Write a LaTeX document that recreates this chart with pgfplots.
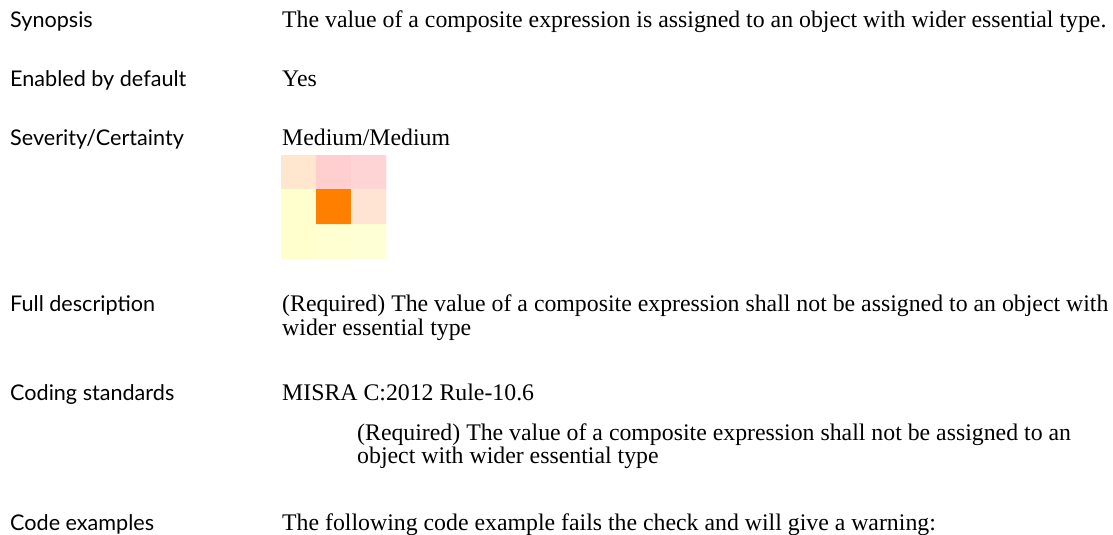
\documentclass[border=0pt]{standalone}
\usepackage{fontspec}
\setmainfont{Liberation Serif}
\newfontfamily\labelfont{Lato}
\usepackage{pgfplots}
\pgfplotsset{compat=1.18}
\begin{document}
\begin{tikzpicture}[x=1bp,y=1bp]
\useasboundingbox (0,0) rectangle (1113,-535);
\clip (0,0) rectangle (1113,-535);
\fill[white] (0,0) rectangle (1113,-535);
\tikzset{
  lab/.style={anchor=base west, inner sep=0pt, font=\labelfont\fontsize{21.6bp}{24bp}\selectfont},
  txt/.style={anchor=base west, inner sep=0pt, font=\fontsize{23.8bp}{24bp}\selectfont}}
\node[lab] at (10,-28) {Synopsis};
\node[txt] at (282,-28) {The value of a composite expression is assigned to an object with wider essential type.};
\node[lab] at (10,-87) {Enabled by default};
\node[txt] at (282,-87) {Yes};
\node[lab] at (10,-146) {Severity/Certainty};
\node[txt] at (282,-146) {Medium/Medium};
\node[lab] at (10,-312) {Full description};
\node[txt] at (282,-312) {(Required) The value of a composite expression shall not be assigned to an object with};
\node[txt] at (282,-336) {wider essential type};
\node[lab] at (10,-400) {Coding standards};
\node[txt] at (282,-400) {MISRA C:2012 Rule-10.6};
\node[txt] at (357,-440) {(Required) The value of a composite expression shall not be assigned to an};
\node[txt] at (357,-463) {object with wider essential type};
\node[lab] at (10,-530) {Code examples};
\node[txt] at (282,-530) {The following code example fails the check and will give a warning:};
\begin{axis}[at={(281bp,-155bp)}, anchor=north west, scale only axis,
  width=105bp, height=104bp, xmin=-0.5, xmax=2.5, ymin=-0.5, ymax=2.5,
  y dir=reverse, hide axis,
  colormap={sev}{rgb255=(255,230,206) rgb255=(255,206,206) rgb255=(255,212,212)
    rgb255=(255,255,206) rgb255=(255,128,0) rgb255=(255,228,212)
    rgb255=(255,255,206) rgb255=(255,255,210) rgb255=(255,255,214)},
  colormap access=direct]
\addplot[matrix plot*, point meta=explicit, mesh/cols=3] table[meta=c] {
x y c
0 0 0
1 0 1
2 0 2
0 1 3
1 1 4
2 1 5
0 2 6
1 2 7
2 2 8
};
\end{axis}
\end{tikzpicture}
\end{document}
